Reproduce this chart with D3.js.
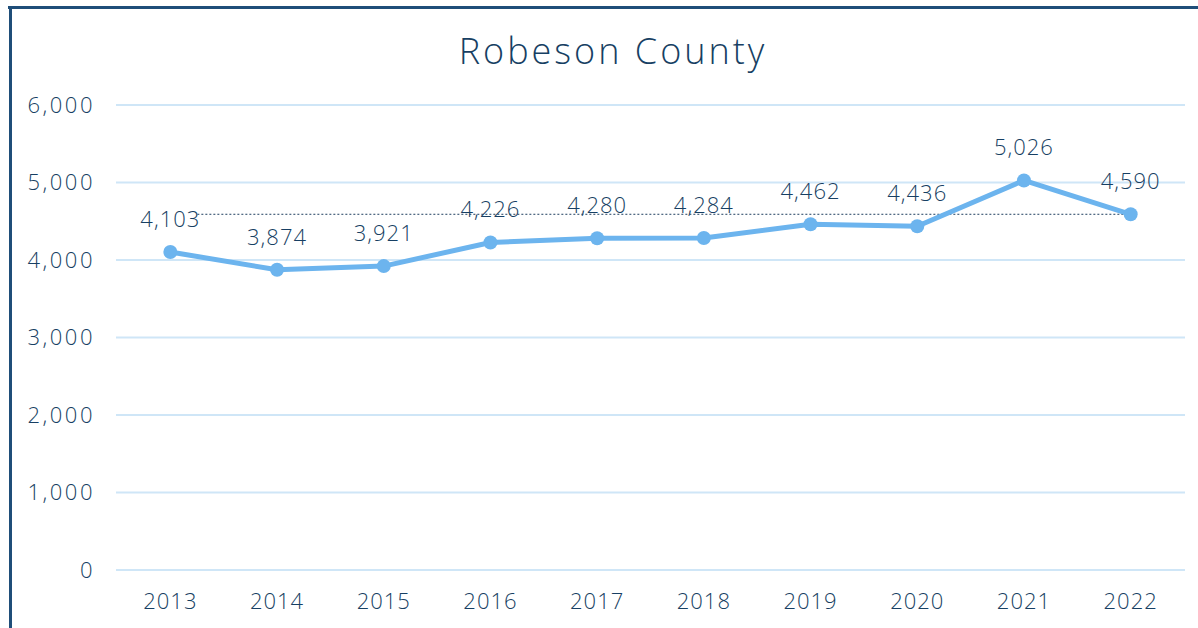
<!DOCTYPE html>
<html>
<head>
<meta charset="utf-8">
<script src="https://cdn.jsdelivr.net/npm/d3@7"></script>
<style>
  body { margin: 0; background: #fff; }
  svg text { font-family: "Open Sans", "Noto Sans", sans-serif; font-weight: 300; fill: #173f63; }
</style>
</head>
<body>
<div id="chart"></div>
<script>
const years = ["2013", "2014", "2015", "2016", "2017", "2018", "2019", "2020", "2021", "2022"]
const counts = [4103, 3874, 3921, 4226, 4280, 4284, 4462, 4436, 5026, 4590]
const yTicks = [0, 1000, 2000, 3000, 4000, 5000, 6000]
const refValue = 4590

const W = 1198, H = 628
const margin = { top: 105, right: 14, bottom: 58, left: 116 }

const svg = d3.select("#chart").append("svg")
    .attr("width", W)
    .attr("height", H)

// frame
svg.append("line").attr("x1", 8).attr("x2", W).attr("y1", 7.5).attr("y2", 7.5)
    .attr("stroke", "#1f4e79").attr("stroke-width", 3)
svg.append("line").attr("x1", 10.5).attr("x2", 10.5).attr("y1", 6).attr("y2", H)
    .attr("stroke", "#1f4e79").attr("stroke-width", 3)

svg.append("text")
    .attr("x", 613).attr("y", 64)
    .attr("text-anchor", "middle")
    .attr("font-size", "36px")
    .attr("letter-spacing", "3px")
    .text("Robeson County")

const x = d3.scaleBand().domain(years).range([margin.left + 1, W - margin.right]).padding(0)
const y = d3.scaleLinear().domain([0, 6000]).range([H - margin.bottom, margin.top])
const cx = d => x(d) + x.bandwidth() / 2

svg.append("g").selectAll("line").data(yTicks).enter().append("line")
    .attr("x1", margin.left).attr("x2", W - margin.right + 1)
    .attr("y1", d => y(d)).attr("y2", d => y(d))
    .attr("stroke", "#cfe6f7").attr("stroke-width", 2)

const fmt = d3.format(",")

svg.append("g").selectAll("text").data(yTicks).enter().append("text")
    .attr("x", 95).attr("y", d => y(d))
    .attr("dy", "0.35em")
    .attr("text-anchor", "end")
    .attr("font-size", "22px")
    .attr("letter-spacing", "2.5px")
    .text(d => fmt(d))

svg.append("g").selectAll("text").data(years).enter().append("text")
    .attr("x", d => cx(d)).attr("y", 609)
    .attr("text-anchor", "middle")
    .attr("font-size", "22px")
    .attr("letter-spacing", "1px")
    .text(d => d)

// reference dotted line
svg.append("line")
    .attr("x1", cx(years[0]) + 27).attr("x2", cx(years[years.length - 1]))
    .attr("y1", y(refValue)).attr("y2", y(refValue))
    .attr("stroke", "#1f3f5f").attr("stroke-width", 1)
    .attr("stroke-dasharray", "2,2")

const data = years.map((yr, i) => ({ yr, v: counts[i] }))

const line = d3.line().x(d => cx(d.yr)).y(d => y(d.v))

svg.append("path").datum(data)
    .attr("d", line)
    .attr("fill", "none")
    .attr("stroke", "#6cb4ee")
    .attr("stroke-width", 5)
    .attr("stroke-linejoin", "round")

svg.append("g").selectAll("circle").data(data).enter().append("circle")
    .attr("cx", d => cx(d.yr)).attr("cy", d => y(d.v))
    .attr("r", 7)
    .attr("fill", "#6cb4ee")

svg.append("g").selectAll("text").data(data).enter().append("text")
    .attr("x", d => cx(d.yr)).attr("y", d => y(d.v) - 25)
    .attr("text-anchor", "middle")
    .attr("font-size", "22px")
    .attr("letter-spacing", "1px")
    .text(d => fmt(d.v))
</script>
</body>
</html>
